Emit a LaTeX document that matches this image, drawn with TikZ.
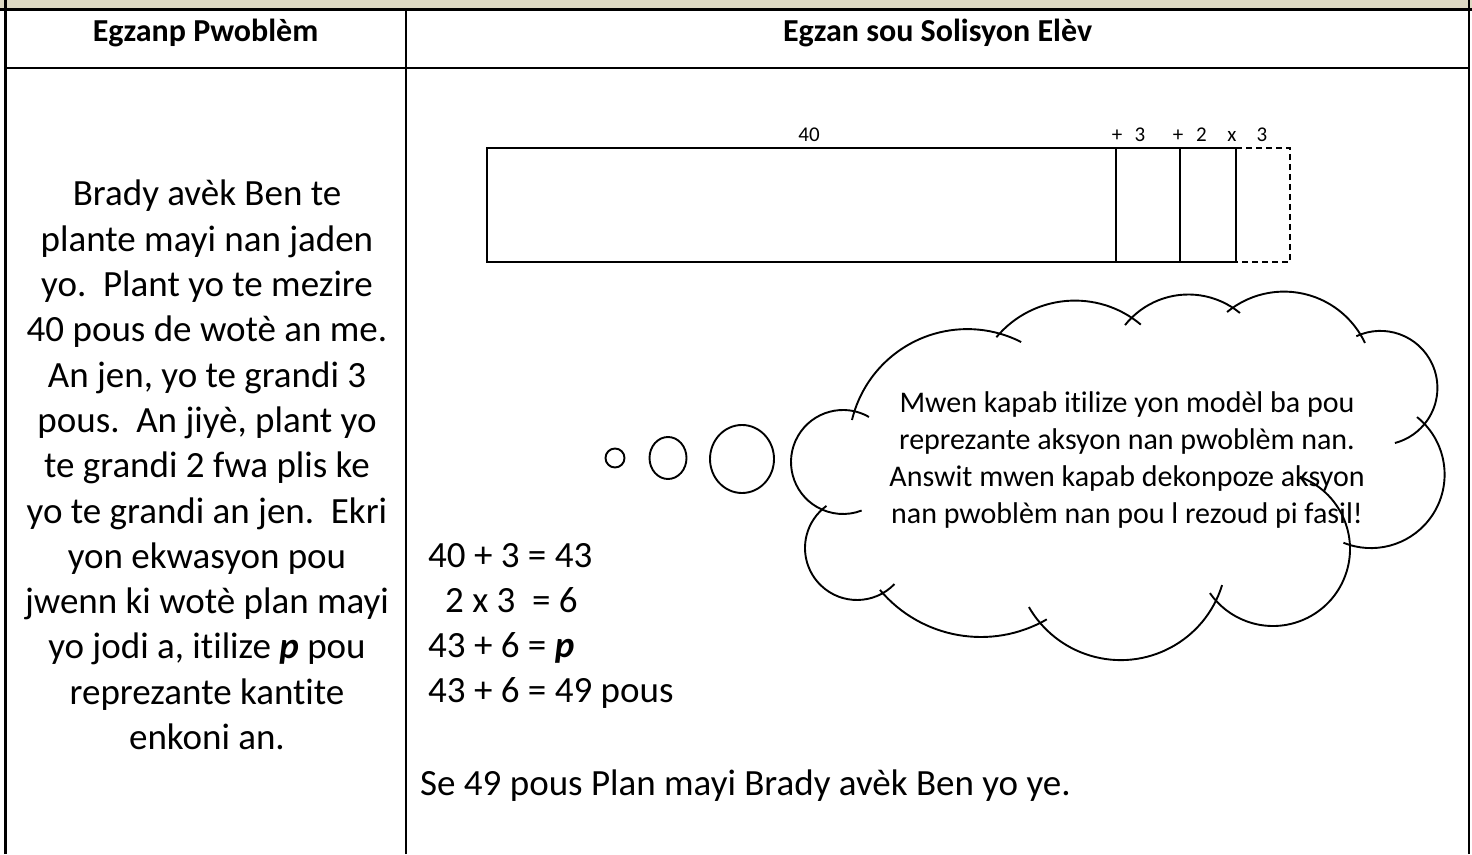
\documentclass[tikz,border=0pt]{standalone}
\usepackage{fontspec}
\setmainfont{Carlito}[Ligatures={NoCommon}]
\frenchspacing
\definecolor{barkhaki}{HTML}{DDD9C3}
\tikzset{
  rule/.style={line width=2.2pt},
  thin/.style={line width=1.2pt},
  cloudline/.style={line width=1.9pt},
  body/.style={font=\fontsize{37}{45.3}\selectfont, inner sep=0pt, anchor=base},
  bodyw/.style={body, anchor=base west},
  head/.style={font=\fontsize{32}{36}\selectfont\bfseries, inner sep=0pt, anchor=base},
  lab/.style={font=\fontsize{21}{24}\selectfont, inner sep=0pt, anchor=base},
  think/.style={font=\fontsize{30}{37}\selectfont, inner sep=0pt, anchor=base},
}
\newcommand\cloudbump[5]{\draw[cloudline] ([shift={(#3:#5)}]#1,#2) arc[start angle=#3,end angle=#4,radius=#5];}
\begin{document}
\begin{tikzpicture}[x=1pt,y=1pt]
\useasboundingbox (0,0) rectangle (1472,854);
\fill[white] (0,0) rectangle (1472,854);
% top bar
\fill[barkhaki] (0,844.5) rectangle (1472,854);
% table rules
\draw[rule] (0,844.5) -- (1472,844.5);
\draw[rule] (5.5,786.3) -- (1469,786.3);
\draw[rule] (5.5,0) -- (5.5,854);
\draw[rule] (1469,0) -- (1469,854);
\draw[rule] (406,0) -- (406,844.5);
% headers
\node[head] (h1) at (205.5,812.5) {Egzanp Pwoblèm};
\node[head] (h2) at (937.5,812.5) {Egzan sou Solisyon Elèv};
% left column
\node[body] (l1) at (207,648.0) {Brady avèk Ben te};
\node[body] (l2) at (207,602.7) {plante mayi nan jaden};
\node[body] (l3) at (207,557.4) {yo.\ \ Plant yo te mezire};
\node[body] (l4) at (207,512.1) {40 pous de wotè an me.};
\node[body] (l5) at (207,466.8) {An jen, yo te grandi 3};
\node[body] (l6) at (207,421.5) {pous.\ \ An jiyè, plant yo};
\node[body] (l7) at (207,376.2) {te grandi 2 fwa plis ke};
\node[body] (l8) at (207,330.9) {yo te grandi an jen.\ \ Ekri};
\node[body] (l9) at (207,285.6) {yon ekwasyon pou};
\node[body] (l10) at (207,240.3) {jwenn ki wotè plan mayi};
\node[body] (l11) at (207,195.0) {yo jodi a, itilize \textbf{\textit{p}} pou};
\node[body] (l12) at (207,149.7) {reprezante kantite};
\node[body] (l13) at (207,104.4) {enkoni an.};
% bar model
\draw[thin] (487,706) rectangle (1236,592);
\draw[thin] (1116,706) -- (1116,592);
\draw[thin] (1180,706) -- (1180,592);
\draw[thin, dashed, dash pattern=on 6pt off 4pt] (1236,706) -- (1290,706) -- (1290,592) -- (1236,592);
\node[lab] (b40) at (809,712.3) {40};
\node[lab] (bpa) at (1117,712.3) {+};
\node[lab] (b3a) at (1140,712.3) {3};
\node[lab] (bpb) at (1178,712.3) {+};
\node[lab] (b2) at (1201.5,712.3) {2};
\node[lab] (bx) at (1232,712.3) {x};
\node[lab] (b3b) at (1262,712.3) {3};
% thought circles
\draw[cloudline] (615,396) ellipse[x radius=9.5, y radius=9.5];
\draw[cloudline] (668,396) ellipse[x radius=18.5, y radius=21];
\draw[cloudline] (742,395) ellipse[x radius=32, y radius=34];
% cloud
\cloudbump{843}{392}{60}{291}{52}
\cloudbump{967.3}{406.3}{166.5}{63}{118.6}
\cloudbump{1074.9}{450.9}{140}{50}{102.5}
\cloudbump{1188.4}{478.5}{141.5}{50.5}{81}
\cloudbump{1284}{472.9}{129.5}{25.2}{89.5}
\cloudbump{1380.4}{466.1}{115}{-75.2}{57}
\cloudbump{1371}{379.5}{51.3}{-112}{73.6}
\cloudbump{1273}{305}{69.5}{-145}{77}
\cloudbump{1120.7}{299.9}{-17}{-150}{106}
\cloudbump{980.9}{348.8}{-60}{-140}{131.8}
\cloudbump{857}{306}{-44}{-234}{52}
% cloud text
\node[think] (c1) at (1127,441) {Mwen kapab itilize yon modèl ba pou};
\node[think] (c2) at (1127,404) {reprezante aksyon nan pwoblèm nan.};
\node[think] (c3) at (1127,367) {Answit mwen kapab dekonpoze aksyon};
\node[think] (c4) at (1127,330) {nan pwoblèm nan pou l rezoud pi fasil!};
% solution lines
\node[bodyw] (e1) at (428,286) {40 + 3 = 43};
\node[bodyw] (e2) at (445,241) {2 x 3\ \ = 6};
\node[bodyw] (e3) at (428,196) {43 + 6 = \textbf{\textit{p}}};
\node[bodyw] (e4) at (428,151) {43 + 6 = 49 pous};
\node[bodyw] (e5) at (420,59) {Se 49 pous Plan mayi Brady avèk Ben yo ye.};
\end{tikzpicture}
\end{document}
